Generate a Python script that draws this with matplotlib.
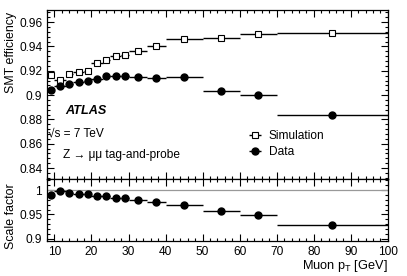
import numpy as np
import matplotlib
matplotlib.use("Agg")
import matplotlib.pyplot as plt
from matplotlib.ticker import MultipleLocator, FuncFormatter

plt.rcParams['font.family'] = ['Liberation Sans', 'DejaVu Sans']
plt.rcParams['mathtext.fontset'] = 'custom'
plt.rcParams['mathtext.rm'] = 'Liberation Sans'
plt.rcParams['mathtext.it'] = 'Liberation Sans:italic'

# bin edges in muon pT [GeV]
edges = [8, 10, 13, 15, 18, 20, 23, 25, 28, 30, 35, 40, 50, 60, 70, 100]

eff_sim = [0.9167, 0.9125, 0.9170, 0.9186, 0.9200, 0.9260, 0.9286, 0.9320,
           0.9330, 0.9360, 0.9400, 0.9464, 0.9472, 0.9506, 0.9514]
eff_data = [0.9044, 0.9078, 0.9094, 0.9106, 0.9117, 0.9130, 0.9156, 0.9160,
            0.9158, 0.9150, 0.9144, 0.9153, 0.9036, 0.9000, 0.8839]
sf = [0.9896, 0.9986, 0.9950, 0.9930, 0.9930, 0.9880, 0.9880, 0.9840,
      0.9833, 0.9800, 0.9757, 0.9694, 0.9560, 0.9480, 0.9290]

edges = np.array(edges)
centers = 0.5 * (edges[1:] + edges[:-1])
halfw = 0.5 * (edges[1:] - edges[:-1])

fig = plt.figure(figsize=(4.07, 2.76), dpi=100)
ax = fig.add_axes([0.1155, 0.3514, 0.8375, 0.6124])
axr = fig.add_axes([0.1155, 0.1268, 0.8375, 0.2246], sharex=ax)

fs = 8.6


def root_fmt(v, pos):
    s = ('%.3f' % v).rstrip('0').rstrip('.')
    return s


def style(a):
    a.tick_params(which='both', direction='in', top=True, right=True,
                  labelsize=fs, width=0.8)
    a.tick_params(which='major', length=5)
    a.tick_params(which='minor', length=2.5)
    for sp in a.spines.values():
        sp.set_linewidth(0.9)


# main panel
ax.errorbar(centers, eff_sim, xerr=halfw, fmt='s', color='black', mfc='white',
            mec='black', ms=5, mew=0.8, lw=1.0, capsize=0, label='Simulation')
ax.errorbar(centers, eff_data, xerr=halfw, fmt='o', color='black', ms=5,
            lw=1.0, capsize=0, label='Data')
ax.set_xlim(8, 100)
ax.set_ylim(0.831, 0.97)
ax.yaxis.set_major_locator(MultipleLocator(0.02))
ax.yaxis.set_minor_locator(MultipleLocator(0.004))
ax.xaxis.set_major_locator(MultipleLocator(10))
ax.xaxis.set_minor_locator(MultipleLocator(2))
ax.yaxis.set_major_formatter(FuncFormatter(root_fmt))
style(ax)
ax.tick_params(axis='x', labelbottom=False)
ax.set_ylabel('SMT efficiency', fontsize=fs + 0.3, loc='top')
ax.yaxis.set_label_coords(-0.088, 0.99)

ax.text(0.055, 0.405, 'ATLAS', transform=ax.transAxes, fontsize=fs + 0.5,
        fontweight='bold', fontstyle='italic', va='center')
ax.text(0.003, 0.27, '\u221as = 7 TeV', transform=ax.transAxes, fontsize=fs,
        va='center')
ax.text(0.047, 0.145, 'Z \u2192 \u03bc\u03bc tag-and-probe', transform=ax.transAxes,
        fontsize=fs, va='center')
ax.legend(loc='upper left', bbox_to_anchor=(0.56, 0.34), frameon=False,
          fontsize=fs, handlelength=1.4, handletextpad=0.5, labelspacing=0.35,
          borderpad=0.2)

# ratio panel
axr.axhline(1.0, color='#999999', lw=0.9)
axr.errorbar(centers, sf, xerr=halfw, fmt='o', color='black', ms=5,
             lw=1.0, capsize=0)
axr.set_ylim(0.895, 1.023)
axr.yaxis.set_major_locator(MultipleLocator(0.05))
axr.yaxis.set_minor_locator(MultipleLocator(0.01))
axr.yaxis.set_major_formatter(FuncFormatter(root_fmt))
style(axr)
axr.set_ylabel('Scale factor', fontsize=fs + 0.3)
axr.yaxis.set_label_coords(-0.088, 0.4)
axr.set_xlabel('Muon p$_{\\mathrm{T}}$ [GeV]', fontsize=fs + 0.6, loc='right',
               labelpad=0)

fig.savefig('out.png', dpi=100)
